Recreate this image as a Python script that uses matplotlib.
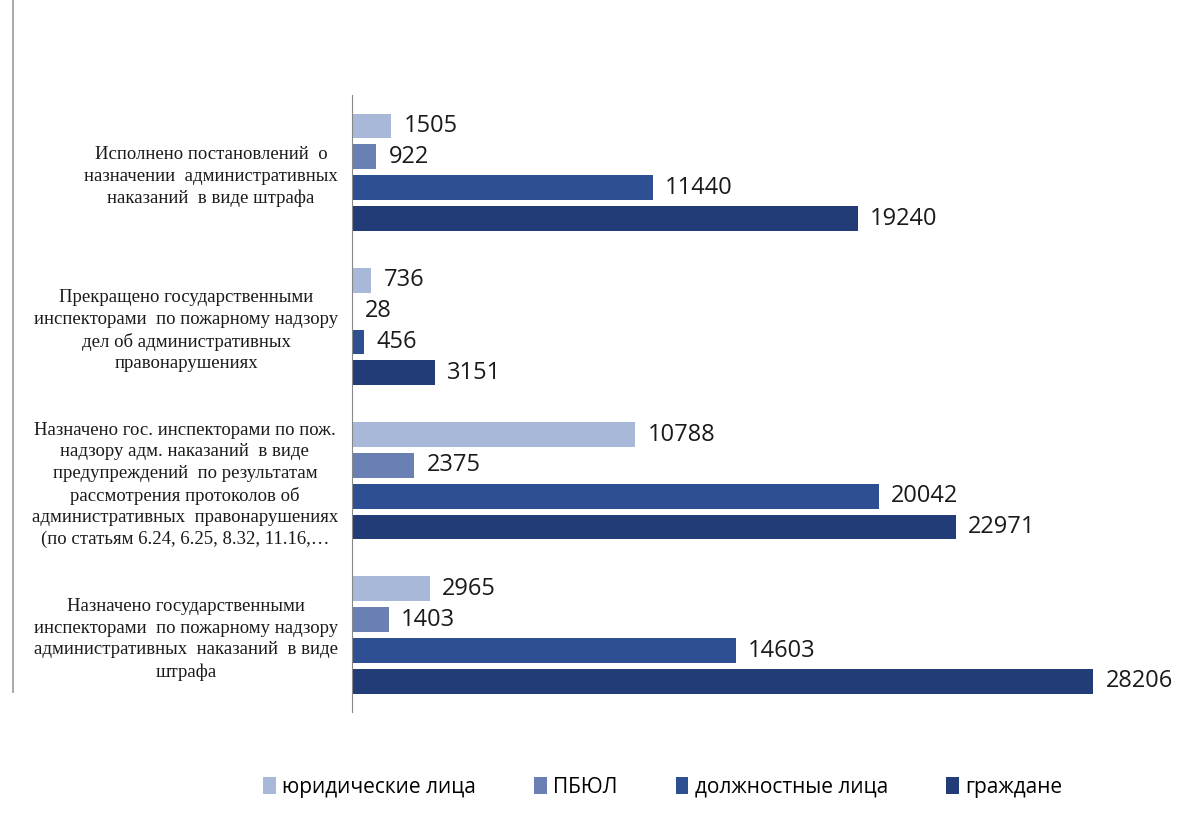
import matplotlib.pyplot as plt
import numpy as np
from matplotlib.lines import Line2D

categories = [
    'Исполнено постановлений  о\nназначении  административных\nнаказаний  в виде штрафа',
    'Прекращено государственными\nинспекторами  по пожарному надзору\nдел об административных\nправонарушениях',
    'Назначено гос. инспекторами по пож.\nнадзору адм. наказаний  в виде\nпредупреждений  по результатам\nрассмотрения протоколов об\nадминистративных  правонарушениях\n(по статьям 6.24, 6.25, 8.32, 11.16,…',
    'Назначено государственными\nинспекторами  по пожарному надзору\nадминистративных  наказаний  в виде\nштрафа',
]
series_names = ['юридические лица', 'ПБЮЛ', 'должностные лица', 'граждане']
yur = [1505, 736, 10788, 2965]
pbyul = [922, 28, 2375, 1403]
dolzh = [11440, 456, 20042, 14603]
grazhd = [19240, 3151, 22971, 28206]
colors = ['#a8b8d8', '#6a80b4', '#2e4f92', '#213c76']

fig = plt.figure(figsize=(11.77, 8.34), dpi=100)
ax = fig.add_axes([0.299, 0.146, 0.67, 0.74])

y = np.arange(len(categories))
offsets = [-0.3, -0.1, 0.1, 0.3]
for vals, off, col, name in zip([yur, pbyul, dolzh, grazhd], offsets, colors, series_names):
    bars = ax.barh(y + off, vals, height=0.16, color=col, label=name)
    ax.bar_label(bars, padding=9, fontsize=17, family='Open Sans', color='#1a1a1a')

ax.set_xlim(0, 30000)
ax.set_ylim(3.5, -0.5)
ax.set_yticks(y)
ax.set_yticklabels(categories, family='Liberation Serif', fontsize=13.5,
                   multialignment='center', linespacing=1.35, color='#1a1a1a')
ax.tick_params(axis='y', length=0, pad=10)
ax.set_xticks([])
for s in ['top', 'right', 'bottom']:
    ax.spines[s].set_visible(False)
ax.spines['left'].set_color('#888888')

fig.legend(loc='center', bbox_to_anchor=(0.563, 0.056), ncol=4, frameon=False,
           prop={'family': 'Open Sans', 'size': 15}, handlelength=0.6,
           handleheight=0.9, handletextpad=0.3, columnspacing=2.8)

# page border line from the scan
fig.add_artist(Line2D([0.011, 0.011], [0.17, 1.0], color='#999999', lw=1.2))

fig.savefig('out.png', dpi=100, facecolor='white')
